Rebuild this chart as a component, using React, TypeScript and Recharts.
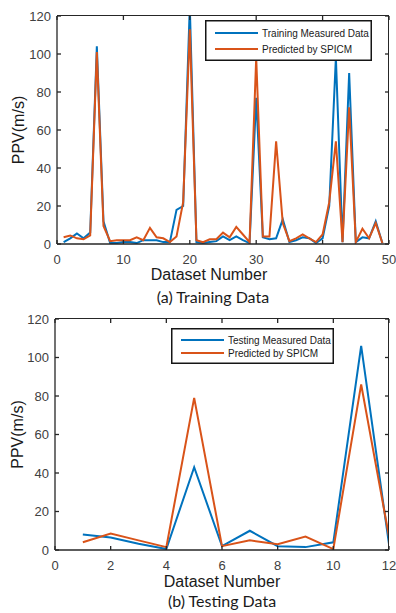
import React from 'react'
import { LineChart, Line, XAxis, YAxis, Legend } from 'recharts'

// (a) training set: dataset number, measured PPV, SPICM prediction
const trainNo = [
  1, 2, 3, 4, 5, 6, 7, 8, 9, 10, 11, 12, 13, 14, 15, 16, 17, 18, 19, 20, 21, 22, 23, 24, 25,
  26, 27, 28, 29, 30, 31, 32, 33, 34, 35, 36, 37, 38, 39, 40, 41, 42, 43, 44, 45, 46, 47, 48, 49,
]
const trainMeasured = [
  1, 3, 5.5, 3, 6, 104, 12, 0.5, 0.5, 1, 1, 0.5, 2, 2, 2, 1, 1, 18, 20, 125, 1, 0.5, 1, 1.5, 4,
  2, 4, 2, 0.5, 77, 3.5, 2.5, 3, 13, 1, 2, 3.5, 3, 0.5, 3, 20, 98, 1, 90, 1, 3.5, 3, 12, 0.5,
]
const trainPredicted = [
  3.6, 4.5, 3, 2.5, 4.5, 101, 9.5, 1.5, 2, 2, 2, 3.5, 2, 8.5, 3.5, 3, 1, 4, 22, 113, 2, 1, 2.5, 2.5, 6,
  3.5, 9, 5, 1, 98, 4, 4, 54, 11, 1.5, 3, 5, 3, 1, 5, 22, 54, 1, 72, 1, 8, 3, 11, 0.5,
]

// (b) testing set
const testNo = [1, 2, 3, 4, 5, 6, 7, 8, 9, 10, 11, 12]
const testMeasured = [8, 6.5, 3.2, 0.5, 43, 2, 10, 2, 1.5, 4, 106, 3]
const testPredicted = [4, 8.5, 5, 1.5, 79, 2, 5, 3, 7, 0.5, 86, 7]

const trainXTicks = [0, 10, 20, 30, 40, 50]
const testXTicks = [0, 2, 4, 6, 8, 10, 12]
const yTicks = [0, 20, 40, 60, 80, 100, 120]
const Y_MAX = 120

const FONT = '"Liberation Sans", Arial, Helvetica, sans-serif'
const BLUE = '#0072BD'
const ORANGE = '#D95319'
const AXIS = '#262626'
const CHART_W = 396
const RIGHT = 7
const X_AXIS_H = 41

function LegendBox({ w, h, rows, labels }: { w: number; h: number; rows: number[]; labels: string[] }) {
  const colors = [BLUE, ORANGE]
  return (
    <svg width={w} height={h} style={{ display: 'block' }}>
      <rect x={0.75} y={0.75} width={w - 1.5} height={h - 1.5} fill="#fff" stroke="#151515" strokeWidth={1.5} />
      {labels.map((l, i) => (
        <g key={l}>
          <line x1={10} x2={53} y1={rows[i]} y2={rows[i]} stroke={colors[i]} strokeWidth={2} />
          <text x={57} y={rows[i]} dominantBaseline="central" fontSize={10} fontFamily={FONT} fill="#1a1a1a">
            {l}
          </text>
        </g>
      ))}
    </svg>
  )
}

// MATLAB-style box: top and right edges with inward ticks, placed over the plot area
function AxesBox({ left, top, w, h, xMax, xTicks }: { left: number; top: number; w: number; h: number; xMax: number; xTicks: number[] }) {
  return (
    <>
      <div
        style={{
          position: 'absolute',
          left,
          top: top - 1,
          width: w,
          height: h,
          borderTop: `1.5px solid ${AXIS}`,
          borderRight: `1.5px solid ${AXIS}`,
          boxSizing: 'border-box',
          pointerEvents: 'none',
        }}
      />
      <svg
        width={CHART_W}
        height={top + h + 2}
        style={{ position: 'absolute', left: 0, top: 0, pointerEvents: 'none', overflow: 'visible' }}
      >
        {xTicks.map((t) => {
          const x = left + (t / xMax) * w
          return <line key={`x${t}`} x1={x} x2={x} y1={top} y2={top + 4} stroke={AXIS} strokeWidth={1.3} />
        })}
        {yTicks.map((t) => {
          const y = top + h - (t / Y_MAX) * h
          return <line key={`y${t}`} x1={left + w - 4} x2={left + w} y1={y} y2={y} stroke={AXIS} strokeWidth={1.3} />
        })}
      </svg>
    </>
  )
}

interface PanelProps {
  no: number[]
  measured: number[]
  predicted: number[]
  xMax: number
  xTicks: number[]
  height: number
  top: number
  yWidth: number
  tickGap: number
  labelDx: number
  labelOffset: number
  legend: { left: number; top: number; w: number; h: number; rows: number[]; labels: string[] }
}

function Panel({ no, measured, predicted, xMax, xTicks, height, top, yWidth, tickGap, labelDx, labelOffset, legend }: PanelProps) {
  const data = no.map((n, i) => ({ n, measured: measured[i], predicted: predicted[i] }))
  const axisLine = { stroke: AXIS, strokeWidth: 1.3 }
  const tickStyle = { fill: '#404040', fontSize: 13, fontFamily: FONT }
  const plotW = CHART_W - RIGHT - yWidth
  const plotH = height - top - X_AXIS_H

  return (
    <div style={{ position: 'relative', width: CHART_W, height }}>
      <LineChart width={CHART_W} height={height} data={data} margin={{ top, right: RIGHT, bottom: 0, left: 0 }}>
        <XAxis
          dataKey="n"
          type="number"
          domain={[0, xMax]}
          ticks={xTicks}
          interval={0}
          allowDataOverflow
          height={X_AXIS_H}
          axisLine={axisLine}
          tickLine={axisLine}
          tickSize={-4}
          tickMargin={tickGap}
          tick={tickStyle}
          label={{
            value: 'Dataset Number',
            position: 'insideBottom',
            offset: labelOffset,
            dx: labelDx,
            style: { fontSize: 16, fill: '#1a1a1a', fontFamily: FONT },
          }}
        />
        <YAxis
          type="number"
          domain={[0, Y_MAX]}
          ticks={yTicks}
          interval={0}
          allowDataOverflow
          width={yWidth}
          axisLine={axisLine}
          tickLine={axisLine}
          tickSize={-4}
          tickMargin={10}
          tick={tickStyle}
          label={{
            value: 'PPV(m/s)',
            angle: -90,
            position: 'center',
            dx: -10,
            style: { fontSize: 16, fill: '#1a1a1a', fontFamily: FONT, textAnchor: 'middle' },
          }}
        />
        <Line
          type="linear"
          dataKey="measured"
          name={legend.labels[0]}
          stroke={BLUE}
          strokeWidth={2}
          dot={false}
          isAnimationActive={false}
        />
        <Line
          type="linear"
          dataKey="predicted"
          name={legend.labels[1]}
          stroke={ORANGE}
          strokeWidth={2}
          dot={false}
          isAnimationActive={false}
        />
        <Legend
          layout="horizontal"
          verticalAlign="middle"
          align="center"
          wrapperStyle={{ left: legend.left, top: legend.top, width: legend.w, height: legend.h, zIndex: 2 }}
          content={() => <LegendBox w={legend.w} h={legend.h} rows={legend.rows} labels={legend.labels} />}
        />
      </LineChart>
      <AxesBox left={yWidth} top={top} w={plotW} h={plotH} xMax={xMax} xTicks={xTicks} />
    </div>
  )
}

const caption: React.CSSProperties = {
  position: 'absolute',
  width: 200,
  textAlign: 'center',
  fontFamily: 'Lato, "Open Sans", sans-serif',
  fontSize: 16,
  lineHeight: '16px',
  color: '#1a1a1a',
}

export default function App() {
  return (
    <div style={{ position: 'absolute', left: 0, top: 0, width: 396, height: 613, background: '#fff', overflow: 'hidden' }}>
      <div style={{ position: 'absolute', left: 0, top: 0 }}>
        <Panel
          no={trainNo}
          measured={trainMeasured}
          predicted={trainPredicted}
          xMax={50}
          xTicks={trainXTicks}
          height={285}
          top={16}
          yWidth={57}
          tickGap={15}
          labelDx={-14}
          labelOffset={5}
          legend={{ left: 205, top: 20, w: 167, h: 41, rows: [13, 29], labels: ['Training Measured Data', 'Predicted by SPICM'] }}
        />
      </div>
      <div style={{ ...caption, left: 113, top: 289 }}>(a) Training Data</div>
      <div style={{ position: 'absolute', left: 0, top: 300 }}>
        <Panel
          no={testNo}
          measured={testMeasured}
          predicted={testPredicted}
          xMax={12}
          xTicks={testXTicks}
          height={291}
          top={19}
          yWidth={55}
          tickGap={15}
          labelDx={0}
          labelOffset={4}
          legend={{ left: 171, top: 28, w: 163, h: 36, rows: [12, 25], labels: ['Testing Measured Data', 'Predicted by SPICM'] }}
        />
      </div>
      <div style={{ ...caption, left: 122, top: 593 }}>(b) Testing Data</div>
    </div>
  )
}
